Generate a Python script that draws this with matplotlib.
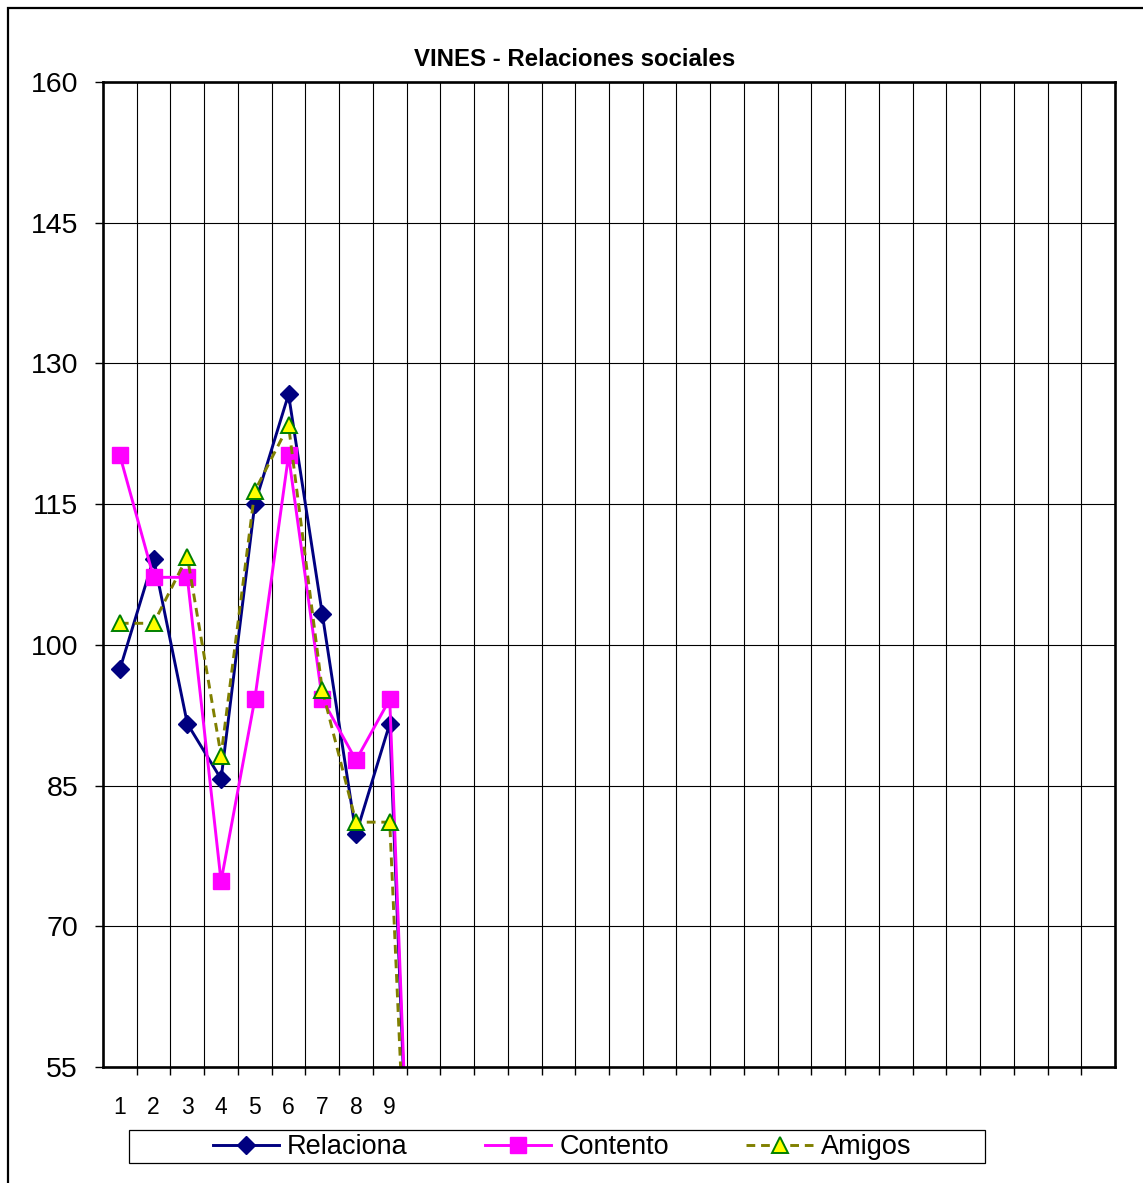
import numpy as np
import matplotlib.pyplot as plt
from matplotlib.patches import Rectangle

plt.rcParams['font.family'] = ['Liberation Sans', 'DejaVu Sans']

# data (30 category slots, only first 10 filled)
n_slots = 30
tick_labels = ['1', '2', '3', '4', '5', '6', '7', '8', '9']
relaciona = [97.4, 109.2, 91.6, 85.7, 115.0, 126.7, 103.3, 79.8, 91.6, 0]
contento = [120.2, 107.2, 107.2, 74.8, 94.2, 120.2, 94.2, 87.7, 94.2, 0]
amigos = [102.3, 102.3, 109.4, 88.2, 116.4, 123.4, 95.2, 81.1, 81.1, 0]
y_ticks = np.arange(55, 161, 15)

W, H = 1143, 1183
fig = plt.figure(figsize=(W / 100, H / 100), dpi=100)
ax = fig.add_axes([103 / W, 1 - 1067 / H, 1012 / W, 985 / H])

x = np.arange(1, len(relaciona) + 1)
ax.plot(x, relaciona, color='#000080', lw=2.1, marker='D', ms=9.5,
        mfc='#000080', mec='#000080', label='Relaciona')
ax.plot(x, contento, color='#ff00ff', lw=2.1, marker='s', ms=11,
        mfc='#ff00ff', mec='#ff00ff', label='Contento')
ax.plot(x, amigos, color='#808000', lw=2.1, ls=(0, (3, 2)), marker='^', ms=11,
        mfc='#ffff00', mec='#008000', mew=1.4, label='Amigos')

ax.set_xlim(0.5, n_slots + 0.5)
ax.set_ylim(55, 160)

# labels at category centres, ticks + grid at boundaries
ax.set_xticks(np.arange(1, len(tick_labels) + 1))
ax.set_xticklabels(tick_labels, fontsize=16.5)
ax.set_xticks(np.arange(1.5, n_slots + 0.5, 1), minor=True)
ax.tick_params(axis='x', which='major', length=0, pad=21)
ax.tick_params(axis='x', which='minor', length=6, width=1, direction='out')
ax.grid(True, axis='x', which='minor', color='black', lw=0.8)

ax.set_yticks(y_ticks)
ax.set_yticklabels([str(v) for v in y_ticks], fontsize=20.5)
ax.tick_params(axis='y', length=6, width=1, direction='out', pad=12)
ax.grid(True, axis='y', which='major', color='black', lw=0.8)
ax.set_axisbelow(True)

for s in ax.spines.values():
    s.set_linewidth(1.9)

fig.text(575 / W, 1 - 60 / H, 'VINES - Relaciones sociales', ha='center', va='center',
         fontsize=17.3, fontweight='bold')

leg = fig.legend(loc='center', bbox_to_anchor=(562 / W, 1 - 1147 / H), ncol=3,
                 frameon=False, fontsize=19.5, numpoints=1, handlelength=2.45,
                 handletextpad=0.3, columnspacing=2.85)

fig.add_artist(Rectangle((129 / W, 1 - 1163 / H), 856 / W, 33 / H, transform=fig.transFigure,
                         fill=False, ec='black', lw=0.9))
fig.add_artist(Rectangle((7.5 / W, -0.1), 1.2, 1.1 - 7.5 / H, transform=fig.transFigure,
                         fill=False, ec='black', lw=1.6))

fig.savefig('out.png', dpi=100)
